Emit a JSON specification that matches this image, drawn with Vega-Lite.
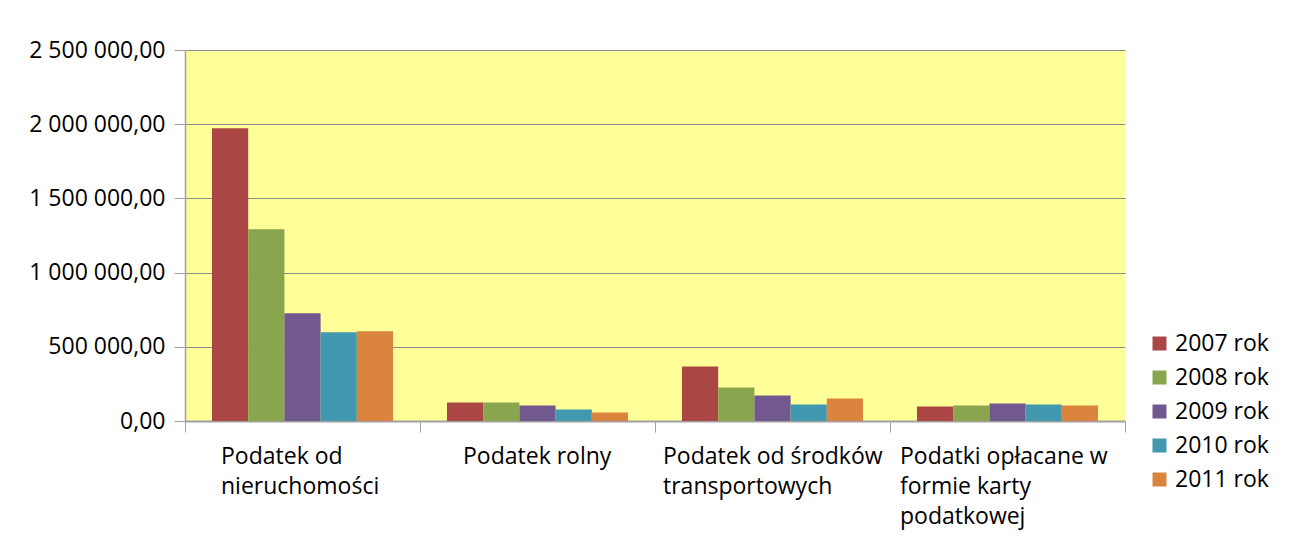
{
  "$schema": "https://vega.github.io/schema/vega-lite/v6.json",
  "width": 940,
  "height": 371,
  "autosize": {"type": "none"},
  "padding": {"left": 185, "top": 50, "right": 168, "bottom": 116},
  "background": "white",
  "config": {
    "locale": {"number": {"decimal": ",", "thousands": " ", "grouping": [3], "currency": ["", " zł"]}},
    "view": {"fill": "#FFFF99", "stroke": null},
    "font": "Open Sans",
    "axis": {"labelColor": "#000000", "labelFont": "Open Sans"},
    "legend": {"labelColor": "#000000", "labelFont": "Open Sans"}
  },
  "data": {
    "values": [
      {"podatek": "Podatek od nieruchomości", "rok": "2007 rok", "wartosc": 1972000},
      {"podatek": "Podatek od nieruchomości", "rok": "2008 rok", "wartosc": 1292000},
      {"podatek": "Podatek od nieruchomości", "rok": "2009 rok", "wartosc": 726000},
      {"podatek": "Podatek od nieruchomości", "rok": "2010 rok", "wartosc": 598000},
      {"podatek": "Podatek od nieruchomości", "rok": "2011 rok", "wartosc": 604000},
      {"podatek": "Podatek rolny", "rok": "2007 rok", "wartosc": 125000},
      {"podatek": "Podatek rolny", "rok": "2008 rok", "wartosc": 125000},
      {"podatek": "Podatek rolny", "rok": "2009 rok", "wartosc": 104000},
      {"podatek": "Podatek rolny", "rok": "2010 rok", "wartosc": 77000},
      {"podatek": "Podatek rolny", "rok": "2011 rok", "wartosc": 57000},
      {"podatek": "Podatek od środków transportowych", "rok": "2007 rok", "wartosc": 367000},
      {"podatek": "Podatek od środków transportowych", "rok": "2008 rok", "wartosc": 226000},
      {"podatek": "Podatek od środków transportowych", "rok": "2009 rok", "wartosc": 172000},
      {"podatek": "Podatek od środków transportowych", "rok": "2010 rok", "wartosc": 111000},
      {"podatek": "Podatek od środków transportowych", "rok": "2011 rok", "wartosc": 152000},
      {"podatek": "Podatki opłacane w formie karty podatkowej", "rok": "2007 rok", "wartosc": 98000},
      {"podatek": "Podatki opłacane w formie karty podatkowej", "rok": "2008 rok", "wartosc": 104000},
      {"podatek": "Podatki opłacane w formie karty podatkowej", "rok": "2009 rok", "wartosc": 118000},
      {"podatek": "Podatki opłacane w formie karty podatkowej", "rok": "2010 rok", "wartosc": 111000},
      {"podatek": "Podatki opłacane w formie karty podatkowej", "rok": "2011 rok", "wartosc": 104000}
    ]
  },
  "mark": {"type": "bar"},
  "encoding": {
    "x": {
      "field": "podatek",
      "type": "nominal",
      "sort": null,
      "scale": {"paddingInner": 0, "paddingOuter": 0},
      "axis": {
        "title": null,
        "labelAngle": 0,
        "tickBand": "extent",
        "tickSize": 11,
        "tickColor": "#a0a0a0",
        "domainColor": "#a0a0a0",
        "domainWidth": 2,
        "labelFontSize": 23,
        "labelAlign": "left",
        "labelBaseline": "top",
        "labelPadding": 13,
        "labelLineHeight": 30,
        "labelLimit": 0,
        "labelOverlap": false,
        "labelBound": false,
        "labelOffset": {"expr": "datum.value == 'Podatek od nieruchomości' ? -82 : datum.value == 'Podatek rolny' ? -75 : datum.value == 'Podatek od środków transportowych' ? -110 : -108"},
        "labelExpr": "datum.value == 'Podatek od nieruchomości' ? ['Podatek od', 'nieruchomości'] : datum.value == 'Podatek od środków transportowych' ? ['Podatek od środków', 'transportowych'] : datum.value == 'Podatki opłacane w formie karty podatkowej' ? ['Podatki opłacane w', 'formie karty', 'podatkowej'] : datum.value"
      }
    },
    "xOffset": {"field": "rok", "type": "nominal", "scale": {"paddingInner": 0, "paddingOuter": 0.745}},
    "y": {
      "field": "wartosc",
      "type": "quantitative",
      "scale": {"domain": [0, 2500000], "nice": false},
      "axis": {
        "title": null,
        "values": [0, 500000, 1000000, 1500000, 2000000, 2500000],
        "format": ",.2f",
        "labelFontSize": 23,
        "tickSize": 11,
        "tickColor": "#a0a0a0",
        "domainColor": "#a0a0a0",
        "domainWidth": 1.5,
        "labelPadding": 9,
        "grid": true,
        "gridColor": "#8c8c8c",
        "gridWidth": 1
      }
    },
    "color": {
      "field": "rok",
      "type": "nominal",
      "scale": {"range": ["#AA4643", "#89A54E", "#71588F", "#4198AF", "#DB843D"]},
      "legend": {
        "title": null,
        "orient": "none",
        "legendX": 963,
        "legendY": 282,
        "symbolType": "square",
        "symbolSize": 196,
        "symbolStrokeWidth": 0,
        "labelFontSize": 23,
        "rowPadding": 10,
        "labelOffset": 4,
        "labelLimit": 0
      }
    }
  }
}
